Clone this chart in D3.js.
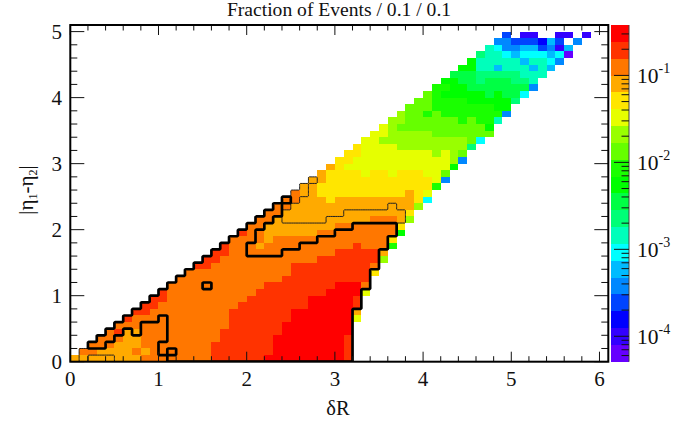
<!DOCTYPE html>
<html><head><meta charset="utf-8">
<script src="https://cdn.jsdelivr.net/npm/d3@7"></script>
<style>html,body{margin:0;padding:0;background:#fff}svg{display:block}text{font-family:"Liberation Serif",serif;fill:#111}</style>
</head><body><div id="c"></div>
<script>
const titleText = "Fraction of Events / 0.1 / 0.1";
const xLabels = [0,1,2,3,4,5,6];
const yLabels = [0,1,2,3,4,5];
const zExponents = [-1,-2,-3,-4];
const bandKeys = "abcdefghijklmnopqrst";
const bandColors = ["#ff0000","#ff3300","#ff7700","#ffaa00","#ffe600","#e6ff00","#99ff00","#66ff00","#1aff00","#00ff00","#00ff44","#00ff77","#00ffbb","#00ffff","#00bbff","#0088ff","#0044ff","#0000ff","#3300ff","#6600ff"];
// each row of the histogram, from eta difference 0 upward: first column, then runs of colour band + count
const histRows = [
"0 d8 c8 b6 a9 b1","1 c2 d4 c1 d1 c7 b7 a8 b1","2 c3 d3 c8 b7 a8 b1","3 c3 d2 c9 b6 a8 b1",
"4 c1 b1 d2 c9 b7 a8","5 c13 b6 a8","6 b1 c11 b7 a7 f1","7 b2 c9 b7 a7 d1",
"8 b2 c9 b8 a5 b1","9 b2 c9 b7 a5 b1","10 b1 c10 b8 a4 f1","11 c11 b8 a3 c1",
"12 c12 b10","13 c12 b9 e1","14 b2 c9 b9 c1","15 b2 c11 b7 g1",
"16 b2 c12 b5 d1","17 b1 c3 d1 c10 b1 c3 i1","18 c4 d1 c13 e1","19 b1 c2 d6 c9 j1",
"20 c2 d8 c7 e1","21 c2 d11 c3 d1 g1","22 c2 d14 e1","23 c2 d14 g1",
"24 c2 d3 e1 d9 e1 n1","25 c1 d2 e10 d1 e1 f1","26 d2 e13 i1","27 d2 e12 f1 p1",
"28 d1 e4 f1 e2 f1 e3 f2 h1","29 d1 e1 f12 j1","30 e2 f11 g1 p1","31 e2 f8 g1 f1 g1 h1",
"32 e1 f4 g8 l1","33 f2 g10 h1 n1","34 f2 g5 h7","35 f1 g1 h10 j1",
"36 g2 h6 i1 h1 i2 m1","37 g1 h2 i1 h1 i7 p1","38 h3 i7 j2","39 h2 i4 j5 l1",
"40 h1 i1 j5 k1 j1 k2 n1","41 i2 j2 k7 p1","42 j2 k2 l1 k3 l2 m1","43 k3 l5 m3",
"44 j2 m2 o1 m3 o1 m1 o1","45 j1 m5 o1 m2 n1 p1","46 l1 m2 n1 o1 n3 o1 n1 t1","47 m1 n1 p2 o2 q1 p1 s1 o1",
"48 p2 q3 r1 o1 q1 .1 p1","49 q1 .1 s2 .2 s2 .1 s1"
];
// contour regions, column by column: [column, first row, last row]
const thickSpans = [[2,2,2],[3,2,3],[4,3,4],[5,4,5],[6,5,6],[7,4,7],[8,6,8],[9,6,9],[10,1,2],[10,7,10],[11,0,0],[11,2,11],[12,0,12],[13,0,13],[14,0,14],[15,0,10],[15,12,15],[16,0,16],[17,0,17],[18,0,18],[19,0,19],[20,0,15],[20,18,20],[21,0,15],[21,20,21],[22,0,15],[22,21,22],[23,0,15],[23,22,23],[24,0,16],[24,24,24],[25,0,16],[26,0,17],[27,0,17],[28,0,18],[29,0,18],[30,0,19],[31,0,19],[32,8,20],[33,11,20],[34,14,20],[35,17,20],[36,19,20]];
const thinSpans = [[1,0,1],[2,1,2],[3,1,3],[4,1,4],[5,0,5],[6,0,6],[7,0,7],[8,0,8],[9,0,9],[10,0,10],[11,0,11],[12,0,12],[13,0,13],[14,0,14],[15,0,15],[16,0,16],[17,0,17],[18,0,18],[19,0,19],[20,0,20],[21,0,21],[22,0,22],[23,0,23],[24,0,20],[24,23,24],[25,0,20],[25,24,25],[26,0,20],[26,25,26],[27,0,20],[27,27,27],[28,0,20],[29,0,21],[30,0,21],[31,0,22],[32,8,22],[33,11,22],[34,14,22],[35,17,22],[36,19,23],[37,21,22]];

const W=691,H=422,nx=61,ny=51,bin=0.1;
const x=d3.scaleLinear().domain([0,6.1]).range([70.3,608.3]);
const y=d3.scaleLinear().domain([0,5.1]).range([361.7,25]);
const z=d3.scaleLog().domain([3.8e-1,5.1e-5]).range([25,361.7]);
const bandY=d3.scaleLinear().domain([0,bandColors.length]).range([25,361.7]);
const color=d3.scaleOrdinal().domain(bandKeys.split("")).range(bandColors);

const svg=d3.select("#c").append("svg").attr("width",W).attr("height",H);
svg.append("rect").attr("width",W).attr("height",H).attr("fill","#fff");

// decode rows
const cells=[];
histRows.forEach((s,r)=>{
  const parts=s.split(" ");let c=+parts[0];
  parts.slice(1).forEach(p=>{
    const k=p[0],n=+p.slice(1);
    for(let i=0;i<n;i++,c++) if(k!==".") cells.push({c,r,k});
  });
});
svg.append("g").attr("shape-rendering","crispEdges").selectAll("rect").data(cells).join("rect")
  .attr("x",d=>x(d.c*bin)).attr("y",d=>y((d.r+1)*bin))
  .attr("width",d=>x((d.c+1)*bin)-x(d.c*bin)).attr("height",d=>y(d.r*bin)-y((d.r+1)*bin))
  .attr("fill",d=>color(d.k));

// contours
const K=5;
function contourOf(spans){
  const v=new Array(nx*K*ny*K).fill(0);
  spans.forEach(([c,a,b])=>{
    for(let r=a;r<=b;r++) for(let j=0;j<K;j++) for(let i=0;i<K;i++)
      v[(r*K+j)*nx*K+c*K+i]=1;
  });
  return d3.contours().size([nx*K,ny*K]).thresholds([0.5])(v)[0];
}
const tr=d3.geoTransform({point(a,b){this.stream.point(x(a/K*bin),y(b/K*bin));}});
const path=d3.geoPath(tr);
svg.append("defs").append("clipPath").attr("id","pc").append("rect")
  .attr("x",x(0)).attr("y",y(5.1)).attr("width",x(6.1)-x(0)).attr("height",y(0)-y(5.1));
const cg=svg.append("g").attr("clip-path","url(#pc)").attr("fill","none").attr("stroke-linejoin","round");
cg.append("path").attr("d",path(contourOf(thinSpans))).attr("stroke","#222").attr("stroke-width",1);
cg.append("path").attr("d",path(contourOf(thickSpans))).attr("stroke","#000").attr("stroke-width",2.7);

// ticks
const tg=svg.append("g").attr("stroke","#111").attr("stroke-width",1);
d3.range(0,31).forEach(i=>{
  const v=i*0.2,major=i%5===0,l=major?10:5.5,px=x(v);
  tg.append("line").attr("x1",px).attr("x2",px).attr("y1",y(0)).attr("y2",y(0)-l);
  tg.append("line").attr("x1",px).attr("x2",px).attr("y1",y(5.1)).attr("y2",y(5.1)+l);
});
d3.range(0,26).forEach(i=>{
  const v=i*0.2,major=i%5===0,l=major?14:7,py=y(v);
  tg.append("line").attr("y1",py).attr("y2",py).attr("x1",x(0)).attr("x2",x(0)+l);
  tg.append("line").attr("y1",py).attr("y2",py).attr("x1",x(6.1)).attr("x2",x(6.1)-l);
});
// frame
svg.append("rect").attr("x",x(0)).attr("y",y(5.1)).attr("width",x(6.1)-x(0)).attr("height",y(0)-y(5.1))
  .attr("fill","none").attr("stroke","#000").attr("stroke-width",2);

// colour bar
const cbL=611,cbR=629;
svg.append("g").attr("shape-rendering","crispEdges").selectAll("rect").data(bandColors).join("rect")
  .attr("x",cbL).attr("width",cbR-cbL)
  .attr("y",(d,i)=>bandY(i)).attr("height",(d,i)=>bandY(i+1)-bandY(i)).attr("fill",d=>d);
svg.append("line").attr("x1",cbR).attr("x2",cbR).attr("y1",25).attr("y2",361.7).attr("stroke","#444").attr("stroke-width",1);
const cbt=svg.append("g").attr("stroke","#111").attr("stroke-width",1);
[-5,-4,-3,-2,-1].forEach(e=>{
  d3.range(1,10).forEach(m=>{
    const v=m*Math.pow(10,e);
    if(v<z.domain()[1]||v>z.domain()[0]) return;
    const py=z(v),l=m===1?15:7.5;
    cbt.append("line").attr("x1",cbR-l).attr("x2",cbR).attr("y1",py).attr("y2",py);
  });
});
zExponents.forEach(e=>{
  const py=z(Math.pow(10,e));
  const t=svg.append("text").attr("x",637).attr("y",py+7.5).attr("font-size",21.5);
  t.append("tspan").text("10");
  t.append("tspan").attr("font-size",14).attr("dy",-10).text(e);
});

// axis labels
svg.append("g").selectAll("text").data(xLabels).join("text")
  .attr("x",d=>x(d)).attr("y",386).attr("text-anchor","middle").attr("font-size",21).text(d=>d);
svg.append("g").selectAll("text").data(yLabels).join("text")
  .attr("x",62).attr("y",d=>y(d)+7).attr("text-anchor","end").attr("font-size",21).text(d=>d);
svg.append("text").attr("x",338).attr("y",415).attr("text-anchor","middle").attr("font-size",20.5).text("δR");
svg.append("text").attr("x",339).attr("y",16).attr("text-anchor","middle").attr("font-size",19.6).text(titleText);
const yt=svg.append("text").attr("transform","translate(33,190) rotate(-90)").attr("text-anchor","middle").attr("font-size",21);
yt.append("tspan").text("|η");
yt.append("tspan").attr("font-size",12).attr("dy",4).text("1");
yt.append("tspan").attr("dy",-4).text("-η");
yt.append("tspan").attr("font-size",12).attr("dy",4).text("2");
yt.append("tspan").attr("dy",-4).text("|");
</script></body></html>
